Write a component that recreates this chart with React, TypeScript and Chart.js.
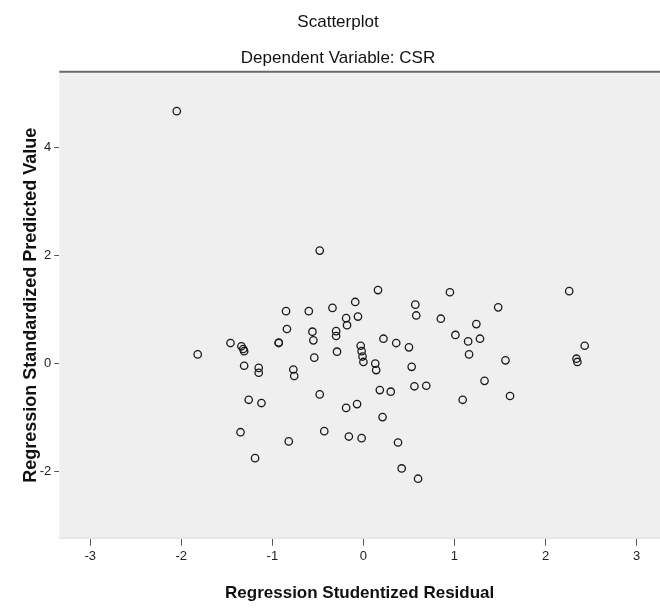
import React, { useEffect, useRef } from "react";
import { Chart, registerables } from "chart.js";

Chart.register(...registerables);

const chartTitle = "Scatterplot";
const chartSubtitle = "Dependent Variable: CSR";
const xAxisTitle = "Regression Studentized Residual";
const yAxisTitle = "Regression Standardized Predicted Value";

const xRange = [-3.34, 3.257];
const yRange = [-3.24, 5.4];
const xTickStep = 1;
const yTickStep = 2;

const studentizedResidual = [
  -2.05, -0.48, -1.82, -1.46, -1.34, -1.32, -1.31, -0.85, -0.6, -0.34,
  -0.84, -0.93, -0.93, -0.56, -0.55, -0.3, -0.3, -0.29, -0.54, -1.31,
  -1.15, -1.15, -0.77, -0.76, -0.48, -1.26, -1.12, -1.35, -0.82, -0.43,
  -1.19, 0.16, 0.95, 1.48, -0.09, -0.19, -0.18, -0.06, 0.57, 0.58,
  0.85, 1.24, 1.01, 1.15, 1.28, 1.16, 1.56, 0.22, 0.36, 0.5,
  -0.03, -0.02, -0.01, 0.0, 0.13, 0.14, 0.53, 0.18, 0.3, 0.56,
  0.69, 1.33, 1.09, 1.61, -0.19, -0.07, 0.21, -0.16, -0.02, 0.38,
  0.42, 0.6, 2.26, 2.43, 2.34, 2.35,
];

const standardizedPredicted = [
  4.67, 2.09, 0.17, 0.38, 0.32, 0.27, 0.23, 0.97, 0.97, 1.03,
  0.64, 0.39, 0.38, 0.59, 0.43, 0.6, 0.51, 0.22, 0.11, -0.04,
  -0.08, -0.17, -0.11, -0.23, -0.57, -0.67, -0.73, -1.27, -1.44, -1.25,
  -1.75, 1.36, 1.32, 1.04, 1.14, 0.84, 0.71, 0.87, 1.09, 0.89,
  0.83, 0.73, 0.53, 0.41, 0.46, 0.17, 0.06, 0.46, 0.38, 0.3,
  0.33, 0.23, 0.13, 0.03, 0.0, -0.12, -0.06, -0.49, -0.52, -0.42,
  -0.41, -0.32, -0.67, -0.6, -0.82, -0.75, -0.99, -1.35, -1.38, -1.46,
  -1.94, -2.13, 1.34, 0.33, 0.09, 0.03,
];

const plotFrame = {
  id: "plotFrame",
  beforeDatasetsDraw(chart: any) {
    const { ctx, chartArea } = chart;
    const { left, right, top, bottom } = chartArea;
    ctx.save();
    ctx.fillStyle = "#efefef";
    ctx.fillRect(left, top, right - left, bottom - top);
    ctx.strokeStyle = "#dcdcdc";
    ctx.lineWidth = 1;
    ctx.beginPath();
    ctx.moveTo(left, bottom - 0.5);
    ctx.lineTo(right, bottom - 0.5);
    ctx.stroke();
    ctx.strokeStyle = "#6a6a6a";
    ctx.lineWidth = 2;
    ctx.beginPath();
    ctx.moveTo(left, top);
    ctx.lineTo(right, top);
    ctx.stroke();
    ctx.restore();
  },
};

export default function App() {
  const canvasRef = useRef<HTMLCanvasElement | null>(null);

  useEffect(() => {
    document.body.style.margin = "0";
    const canvas = canvasRef.current;
    if (!canvas) return;
    const points = studentizedResidual.map((x, i) => ({ x, y: standardizedPredicted[i] }));
    const tickFont = { family: "'Liberation Sans Narrow', 'Liberation Sans', Arial, sans-serif", size: 13 };
    const chart = new Chart(canvas, {
      type: "scatter",
      data: {
        datasets: [
          {
            data: points,
            pointStyle: "circle",
            pointRadius: 3.7,
            pointHoverRadius: 3.7,
            pointBorderWidth: 1.3,
            borderColor: "#1a1a1a",
            backgroundColor: "rgba(0,0,0,0)",
          },
        ],
      },
      options: {
        responsive: false,
        animation: false,
        layout: { autoPadding: false, padding: { top: 0, left: 16, right: 0, bottom: 0 } },
        plugins: {
          legend: { display: false },
          tooltip: { enabled: false },
          title: {
            display: true,
            text: chartTitle,
            color: "#111",
            font: { family: "'Liberation Sans', Arial, sans-serif", size: 17, weight: "normal" },
            padding: { top: 12.5, bottom: 0 },
          },
          subtitle: {
            display: true,
            text: chartSubtitle,
            color: "#111",
            font: { family: "'Liberation Sans', Arial, sans-serif", size: 17, weight: "normal" },
            padding: { top: 15.6, bottom: 2.8 },
          },
        },
        scales: {
          x: {
            type: "linear",
            min: xRange[0],
            max: xRange[1],
            afterFit: (scale: any) => {
              scale.height = 69.3;
            },
            ticks: {
              stepSize: xTickStep,
              includeBounds: false,
              color: "#222",
              font: tickFont,
              padding: 3,
              maxRotation: 0,
            },
            grid: {
              display: true,
              drawOnChartArea: false,
              drawTicks: true,
              tickLength: 7,
              color: "#555",
            },
            border: { display: false },
            title: {
              display: true,
              text: xAxisTitle,
              color: "#111",
              font: { family: "'Liberation Sans', Arial, sans-serif", size: 17, weight: "bold" },
              padding: { top: 0, bottom: 4.3 },
            },
          },
          y: {
            type: "linear",
            min: yRange[0],
            max: yRange[1],
            afterFit: (scale: any) => {
              scale.width = 43.3;
            },
            ticks: {
              stepSize: yTickStep,
              includeBounds: false,
              color: "#222",
              font: tickFont,
              padding: 3,
            },
            grid: {
              display: true,
              drawOnChartArea: false,
              drawTicks: true,
              tickLength: 5,
              color: "#555",
            },
            border: { display: false },
            title: {
              display: true,
              text: yAxisTitle,
              color: "#111",
              font: { family: "'Liberation Sans', Arial, sans-serif", size: 18, weight: "bold" },
              padding: { top: 4.2, bottom: 0 },
            },
          },
        },
      },
      plugins: [plotFrame],
    } as any);
    return () => chart.destroy();
  }, []);

  return (
    <div style={{ position: "absolute", left: 0, top: 0, width: 660, height: 608 }}>
      <canvas ref={canvasRef} width={660} height={608} style={{ display: "block" }} />
    </div>
  );
}
